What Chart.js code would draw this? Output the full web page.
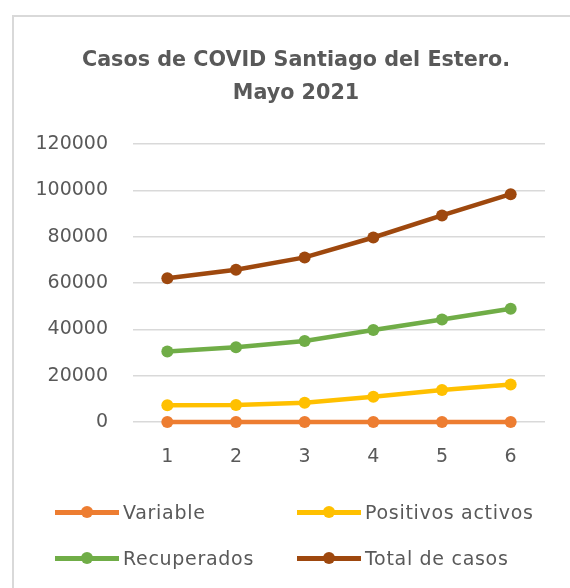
<!DOCTYPE html>
<html>
<head>
<meta charset="utf-8">
<script src="https://cdn.jsdelivr.net/npm/chart.js@4/dist/chart.umd.min.js"></script>
<style>
  html, body { margin: 0; padding: 0; background: #fff; overflow: hidden; }
  body { width: 570px; height: 588px; position: relative; }
  #frame {
    position: absolute; left: 12px; top: 15px; width: 600px; height: 600px;
    border-left: 2px solid #d9d9d9; border-top: 2px solid #d9d9d9;
    box-sizing: border-box;
  }
  #wrap { position: absolute; left: 12px; top: 15px; width: 570px; height: 465px; }
  #legend { position: absolute; left: 0; top: 0; width: 570px; height: 588px; pointer-events: none; }
  .item { position: absolute; display: flex; align-items: center; height: 24px;
    font-family: "DejaVu Sans", sans-serif; font-size: 19px; color: #595959; letter-spacing: 0.7px; }
  .mark { position: relative; width: 64px; height: 24px; margin-right: 4px; }
  .mark .ln { position: absolute; left: 0; right: 0; top: 9.5px; height: 5px; }
  .mark .dot { position: absolute; left: 26px; top: 6px; width: 12px; height: 12px; border-radius: 50%; }
</style>
</head>
<body>
<div id="frame"></div>
<div id="wrap"><canvas id="covidChart"></canvas></div>
<div id="legend"></div>
<script>
// data
const labels = ["1", "2", "3", "4", "5", "6"];
const variable = [0, 0, 0, 0, 0, 0];
const positivosActivos = [7200, 7300, 8300, 10900, 13800, 16200];
const recuperados = [30500, 32300, 35000, 39700, 44300, 48900];
const totalCasos = [62100, 65800, 71100, 79700, 89200, 98400];
const seriesNames = ["Variable", "Positivos activos", "Recuperados", "Total de casos"];
const seriesColors = ["#ED7D31", "#FFC000", "#70AD47", "#9E480E"];

const seriesData = [variable, positivosActivos, recuperados, totalCasos];
const textColor = "#595959";

const ctx = document.getElementById("covidChart").getContext("2d");

const chart = new Chart(ctx, {
    type: "line",
    data: {
        labels: labels,
        datasets: seriesData.map((d, i) => ({
            label: seriesNames[i],
            data: d,
            borderColor: seriesColors[i],
            backgroundColor: seriesColors[i],
            borderWidth: 4.5,
            pointRadius: 6,
            pointHoverRadius: 6,
            pointBorderWidth: 0,
            tension: 0,
            clip: false,
        })),
    },
    options: {
        responsive: true,
        maintainAspectRatio: false,
        animation: false,
        layout: {
            padding: { left: 0, right: 2, top: 0, bottom: 0 },
        },
        scales: {
            x: {
                offset: true,
                grid: { display: false },
                border: { display: false },
                ticks: {
                    color: textColor,
                    font: { family: "DejaVu Sans", size: 19 },
                    padding: 16,
                },
                afterFit: (scale) => { scale.height = 58; },
            },
            y: {
                min: 0,
                max: 120000,
                grid: { color: "#d9d9d9", lineWidth: 1.5, drawTicks: false },
                border: { display: false },
                ticks: {
                    stepSize: 20000,
                    color: textColor,
                    font: { family: "DejaVu Sans", size: 19 },
                    padding: 25,
                    callback: (value) => String(value), // no thousands separator
                },
                afterFit: (scale) => { scale.width = 121; },
            },
            // empty right axis, only there to leave a margin so the title centres like excel
            yRight: {
                position: "right",
                min: 0,
                max: 120000,
                grid: { display: false },
                border: { display: false },
                ticks: { display: false },
                afterFit: (scale) => { scale.width = 35; },
            },
        },
        plugins: {
            legend: { display: false }, // legend is drawn as html below
            tooltip: { enabled: false },
            title: {
                display: true,
                text: ["Casos de COVID Santiago del Estero.", "Mayo 2021"],
                color: textColor,
                font: { family: "DejaVu Sans", size: 20.7, weight: "bold", lineHeight: 1.55 },
                padding: { top: 30, bottom: 35 },
            },
        },
    },
});

// html legend, 2 x 2 like the excel one
const legendBox = document.getElementById("legend");
const legendPos = [[55, 500], [297, 500], [55, 546], [297, 546]];
chart.data.datasets.forEach((ds, i) => {
    const item = document.createElement("div");
    item.className = "item";
    item.style.left = legendPos[i][0] + "px";
    item.style.top = legendPos[i][1] + "px";
    item.innerHTML =
        '<span class="mark"><span class="ln" style="background:' + ds.borderColor + '"></span>' +
        '<span class="dot" style="background:' + ds.borderColor + '"></span></span>' +
        '<span>' + ds.label + '</span>';
    legendBox.appendChild(item);
});
</script>
</body>
</html>
